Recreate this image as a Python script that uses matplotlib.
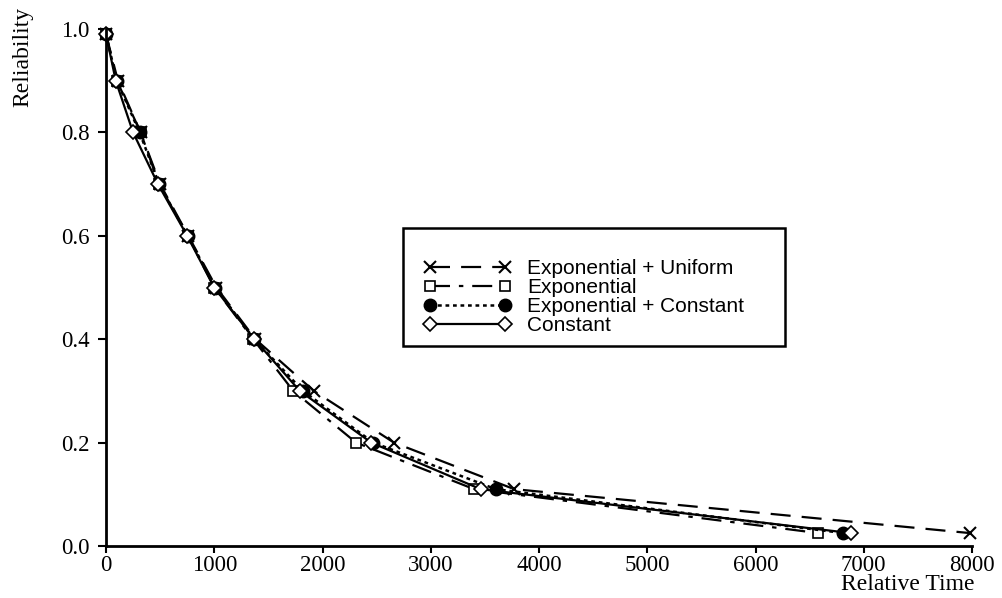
import matplotlib
matplotlib.use("Agg")
import matplotlib.pyplot as plt
from matplotlib.patches import Rectangle

# reliability levels where each model was evaluated
reliability = [0.99, 0.9, 0.8, 0.7, 0.6, 0.5, 0.4, 0.3, 0.2, 0.11, 0.025]

# relative time for each model at those levels
t_exp_uniform = [0, 110, 320, 500, 760, 1020, 1380, 1920, 2660, 3770, 7980]
t_exp = [0, 100, 320, 490, 755, 1000, 1360, 1730, 2310, 3400, 6580]
t_exp_const = [0, 100, 310, 490, 755, 1010, 1370, 1820, 2470, 3600, 6810]
t_const = [0, 90, 250, 480, 750, 1000, 1370, 1790, 2450, 3460, 6880]

labels = ["Exponential + Uniform", "Exponential", "Exponential + Constant", "Constant"]

x_ticks = [0, 1000, 2000, 3000, 4000, 5000, 6000, 7000, 8000]
y_ticks = [0.0, 0.2, 0.4, 0.6, 0.8, 1.0]

serif = ["Liberation Serif", "DejaVu Serif"]
sans = ["Liberation Sans", "DejaVu Sans"]

W, H = 1002, 598
fig = plt.figure(figsize=(W / 100, H / 100), dpi=100)
ax = fig.add_axes([106 / W, 1 - 546 / H, 866 / W, 517 / H])

ax.plot(t_exp_uniform, reliability, color="black", lw=1.6, dashes=(9, 5),
        marker="x", ms=9, mew=1.5, clip_on=False, label=labels[0])
ax.plot(t_exp, reliability, color="black", lw=1.6, dashes=(9, 4, 2, 4),
        marker="s", ms=7, mfc="white", mec="black", mew=1.2, clip_on=False, label=labels[1])
ax.plot(t_exp_const, reliability, color="black", lw=1.8, linestyle=(0, (1.5, 1.5)),
        marker="o", ms=9, mfc="black", mec="black", clip_on=False, label=labels[2])
ax.plot(t_const, reliability, color="black", lw=1.6, linestyle="-",
        marker="D", ms=7, mfc="white", mec="black", mew=1.2, clip_on=False, label=labels[3])

ax.set_xlim(0, 8000)
ax.set_ylim(0, 1.0)
ax.set_xticks(x_ticks)
ax.set_yticks(y_ticks)
ax.set_xticklabels([str(v) for v in x_ticks], family=serif, fontsize=16.5)
ax.set_yticklabels([f"{v:.1f}" for v in y_ticks], family=serif, fontsize=16.5)
ax.tick_params(axis="x", direction="out", length=5, width=1.5, pad=1.5)
ax.tick_params(axis="y", direction="out", length=6, width=1.5, pad=6)

for side in ["top", "right"]:
    ax.spines[side].set_visible(False)
for side in ["left", "bottom"]:
    ax.spines[side].set_linewidth(2)

# legend box drawn separately: the original has more room above the entries than below
box = Rectangle((403 / W, 1 - 346 / H), 382 / W, 118 / H, transform=fig.transFigure,
                facecolor="white", edgecolor="black", linewidth=1.8, zorder=4, clip_on=False)
ax.add_patch(box)
leg = ax.legend(loc="center left", bbox_to_anchor=(424 / W, 1 - 297 / H),
                bbox_transform=fig.transFigure, numpoints=2, handlelength=4.2,
                handletextpad=0.75, labelspacing=0.0, borderpad=0, borderaxespad=0,
                frameon=False, prop={"family": sans, "size": 15})
leg.set_zorder(6)

fig.text(23 / W, 1 - 57 / H, "Reliability", rotation=90, ha="center", va="center",
         family=serif, fontsize=17)
fig.text(908 / W, 1 - 585 / H, "Relative Time", ha="center", va="center",
         family=serif, fontsize=17)

plt.savefig("out.png", dpi=100)
